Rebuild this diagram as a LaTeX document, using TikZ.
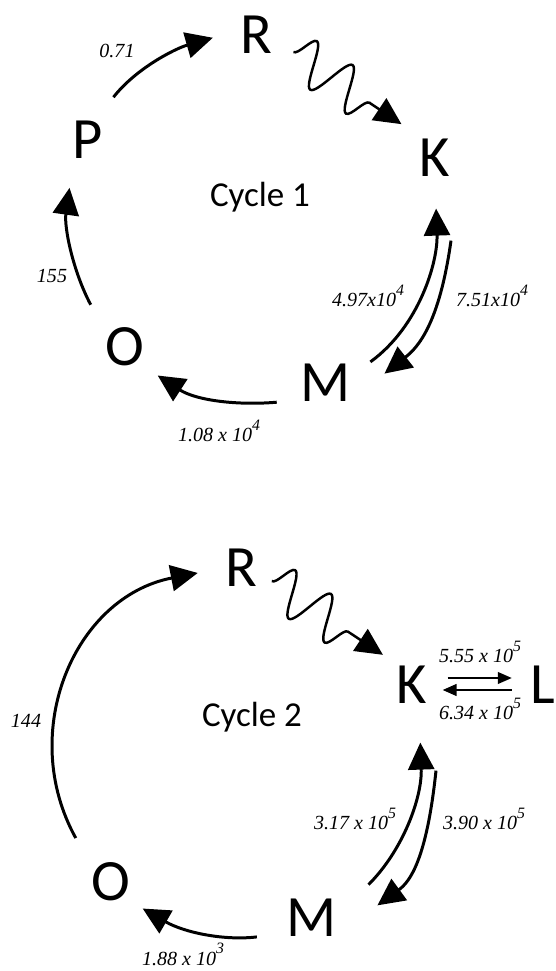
\documentclass[tikz,border=0pt]{standalone}
\usepackage{fontspec}
\setmainfont{Carlito}
\newfontfamily\ratefamily{Liberation Serif}
\usetikzlibrary{arrows.meta,calc,decorations.pathmorphing}
\newcommand\speciesfont{\fontsize{33.3}{36}\selectfont}
\newcommand\cyclefont{\fontsize{19.9}{22}\selectfont}
\newcommand\ratefont{\ratefamily\itshape\fontsize{11.4}{13}\selectfont}
\newcommand\expo[1]{\raisebox{0.55em}{\fontsize{9}{10}\selectfont #1}}
\tikzset{
  species/.style={inner sep=0pt,font=\speciesfont},
  cyclename/.style={inner sep=0pt,anchor=base,font=\cyclefont},
  rate/.style={inner sep=0pt,anchor=base,font=\ratefont},
  react/.style={-{Triangle[length=5.4mm,width=5.2mm]},line width=1.7pt},
  wavy/.style={react,line width=1.4pt,decorate,
               decoration={snake,segment length=8.6mm,amplitude=4.4mm,post length=6.4mm}},
  swap/.style={-{Triangle[length=2.8mm,width=2.3mm]},line width=1.4pt},
}

\begin{document}
\begin{tikzpicture}[x=1cm,y=1cm]
  \useasboundingbox (0,0) rectangle (11.1,19.42);
  % ---------------- cycle 1 ----------------
  \node[species] (R1) at (5.12,18.72) {R};
  \node[species] (K1) at (8.70,16.26) {K};
  \node[species] (M1) at (6.52,11.76) {M};
  \node[species] (O1) at (2.50,12.48) {O};
  \node[species] (P1) at (1.76,16.62) {P};
  \node[cyclename] (cyc1) at (5.20,15.28) {Cycle 1};
  \node[rate] (kPR) at (2.34,18.26) {0.71};
  \node[rate] (kOP) at (1.04,13.76) {155};
  \node[rate] (kMK1) at (7.36,13.28) {4.97x10\expo{4}};
  \node[rate] (kKM1) at (9.84,13.28) {7.51x10\expo{4}};
  \node[rate] (kMO1) at (4.38,10.58) {1.08 x 10\expo{4}};
  \draw[react,shorten <=6mm,shorten >=5.6mm] (P1.70) to[out=52,in=196] (R1.163);
  \draw[wavy] ($(R1.350)!5.1mm!(K1.121)$) -- ($(K1.121)!5.3mm!(R1.350)$);
  \draw[react,shorten <=4.7mm,shorten >=6.3mm] (M1.16) to[out=36,in=272] (K1.south);
  \draw[react,shorten >=8.4mm,looseness=1.15] ([shift={(0.32,-1.27)}]K1.south) to[out=262,in=38] (M1.327);
  \draw[react,shorten <=4.8mm,shorten >=3.3mm] (M1.214) to[out=185,in=327] (O1.314);
  \draw[react,shorten <=6.2mm,shorten >=5.8mm] (O1.143) to[out=118,in=262] (P1.233);
  % ---------------- cycle 2 ----------------
  \node[species] (R2) at (4.82,8.06) {R};
  \node[species] (K2) at (8.24,5.72) {K};
  \node[species] (L2) at (10.86,5.72) {L};
  \node[species] (M2) at (6.24,1.06) {M};
  \node[species] (O2) at (2.22,1.78) {O};
  \node[cyclename] (cyc2) at (5.04,4.88) {Cycle 2};
  \node[rate] (kOR) at (0.52,4.86) {144};
  \node[rate] (kKL) at (9.60,6.16) {5.55 x 10\expo{5}};
  \node[rate] (kLK) at (9.60,5.02) {6.34 x 10\expo{5}};
  \node[rate] (kMK2) at (7.10,2.82) {3.17 x 10\expo{5}};
  \node[rate] (kKM2) at (9.68,2.82) {3.90 x 10\expo{5}};
  \node[rate] (kMO2) at (3.66,0.12) {1.88 x 10\expo{3}};
  \draw[react,shorten <=6.4mm,shorten >=5.5mm,looseness=1.2] (O2.141) to[out=119,in=191] (R2.179);
  \draw[wavy] ($(R2.348)!3.5mm!(K2.123)$) -- ($(K2.123)!4mm!(R2.348)$);
  \draw[react,shorten <=8.8mm,shorten >=7.7mm,looseness=1.05] (M2.5) to[out=45,in=272] (K2.290);
  \draw[react,shorten >=9.9mm,looseness=1.2] ([shift={(0.48,-1.33)}]K2.south) to[out=264,in=36] (M2.327);
  \draw[react,shorten <=6mm,shorten >=2.8mm] (M2.211) to[out=187,in=330] (O2.315);
  \draw[swap,shorten <=4mm,shorten >=3.7mm] ([yshift=1.4mm]K2.east) -- ([yshift=1.4mm]L2.west);
  \draw[swap,shorten <=3.7mm,shorten >=3mm] ([yshift=-1mm]L2.west) -- ([yshift=-1mm]K2.east);
\end{tikzpicture}
\end{document}
